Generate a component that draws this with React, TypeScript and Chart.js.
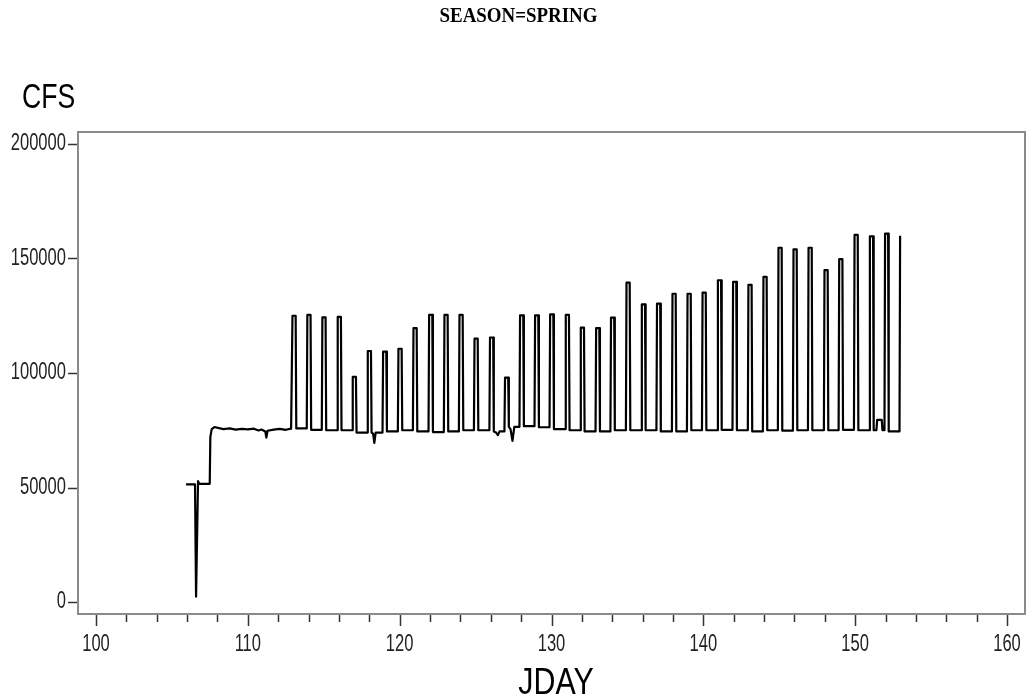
import React, { useEffect, useRef } from 'react';
import { Chart, registerables } from 'chart.js';

Chart.register(...registerables);

// ---- Tick values ----
const xTickValues = [100, 102, 104, 106, 108, 110, 112, 114, 116, 118, 120, 122, 124, 126, 128, 130, 132, 134, 136, 138, 140, 142, 144, 146, 148, 150, 152, 154, 156, 158, 160];
const xLabelValues = [100, 110, 120, 130, 140, 150, 160];
const yTickValues = [0, 50000, 100000, 150000, 200000];

// ---- Initial (pre-pulse) segment ----
const startDays = [105.93, 106.52, 106.59, 106.63, 106.72, 106.80, 107.0, 107.49, 107.53, 107.62, 107.8, 108.1, 108.4, 108.8, 109.2, 109.6, 110.0, 110.4, 110.7, 110.9, 111.15, 111.22, 111.3, 111.7, 112.1, 112.5, 112.85];
const startCfs = [51400, 51400, 2300, 2300, 52800, 51600, 51600, 51600, 72000, 75500, 76400, 75900, 75500, 75800, 75300, 75600, 75400, 75700, 74900, 75300, 74500, 71800, 74800, 75300, 75600, 75200, 75700];

// ---- Daily release pulses (day 113 .. 153) ----
const pulseRise = [112.90, 113.88, 114.87, 115.88, 116.87, 117.86, 118.87, 119.88, 120.87, 121.90, 122.91, 123.90, 124.89, 125.91, 126.90, 127.89, 128.88, 129.87, 130.90, 131.89, 132.90, 133.88, 134.90, 135.91, 136.91, 137.93, 138.92, 139.91, 140.92, 141.92, 142.93, 143.92, 144.91, 145.90, 146.89, 147.94, 148.91, 149.92, 150.93, 151.93, 152.92];
const pulseFall = [113.19, 114.17, 115.16, 116.17, 117.16, 118.15, 119.16, 120.17, 121.16, 122.19, 123.20, 124.19, 125.18, 126.20, 127.19, 128.18, 129.17, 130.16, 131.19, 132.18, 133.19, 134.17, 135.19, 136.20, 137.20, 138.22, 139.21, 140.20, 141.21, 142.21, 143.22, 144.21, 145.20, 146.19, 147.18, 148.23, 149.20, 150.21, 151.22, 152.21];
const pulsePeak = [125000, 125400, 124300, 124500, 98300, 109600, 109300, 110600, 119600, 125400, 125400, 125400, 115000, 115500, 98000, 125200, 125200, 125600, 125400, 119800, 119600, 124200, 139500, 130000, 130300, 134600, 134600, 135100, 140500, 139800, 138500, 142000, 154700, 154000, 154700, 144900, 149700, 160300, 159700, 160900, 159900];
const troughCfs = [75800, 75200, 75000, 75000, 74000, 74000, 74500, 75000, 74500, 74200, 74500, 75000, 75000, 74500, 76500, 76800, 76300, 75500, 75000, 74500, 74500, 75000, 75000, 75000, 74500, 74500, 75000, 75000, 75200, 75000, 74500, 75000, 74800, 75000, 75000, 75000, 75200, 75000, 75000, 74500];

// ---- Occasional dips / bumps between pulses ----
const dipDays = [118.25, 118.33, 118.42, 126.35, 126.47, 126.58, 127.30, 127.43, 127.55, 151.40, 151.45, 151.75, 151.80];
const dipCfs = [73500, 69500, 74000, 74000, 72900, 74500, 75500, 70400, 76500, 75000, 79500, 79500, 75000];

const SANS = '"Liberation Sans", Arial, sans-serif';

function buildPoints() {
  const pts: { x: number; y: number }[] = [];
  startDays.forEach((d, i) => pts.push({ x: d, y: startCfs[i] }));
  pulseRise.forEach((r, i) => {
    const prevBase = i === 0 ? startCfs[startCfs.length - 1] : troughCfs[i - 1];
    const peak = pulsePeak[i];
    pts.push({ x: r, y: prevBase });
    pts.push({ x: r + 0.04, y: peak });
    if (i < pulseFall.length) {
      const f = pulseFall[i];
      pts.push({ x: f - 0.04, y: peak });
      pts.push({ x: f, y: troughCfs[i] });
    }
  });
  dipDays.forEach((d, i) => pts.push({ x: d, y: dipCfs[i] }));
  pts.sort((a, b) => a.x - b.x);
  return pts;
}

function condensedText(ctx: CanvasRenderingContext2D, text: string, x: number, y: number, font: string, sx: number, align: CanvasTextAlign) {
  ctx.save();
  ctx.translate(x, y);
  ctx.scale(sx, 1);
  ctx.font = font;
  ctx.textAlign = align;
  ctx.textBaseline = 'middle';
  ctx.fillText(text, 0, 0);
  ctx.restore();
}

const framePlugin = {
  id: 'sasFrame',
  afterDraw(chart: any) {
    const { ctx, chartArea } = chart;
    const xs = chart.scales.x;
    const ys = chart.scales.y;
    ctx.save();
    // frame
    ctx.strokeStyle = '#8a8a8a';
    ctx.lineWidth = 2;
    ctx.strokeRect(chartArea.left, chartArea.top, chartArea.right - chartArea.left, chartArea.bottom - chartArea.top);
    // tick marks
    ctx.strokeStyle = '#333';
    ctx.lineWidth = 1.5;
    ctx.beginPath();
    xTickValues.forEach((v) => {
      const px = Math.round(xs.getPixelForValue(v)) + 0.5;
      const len = v % 10 === 0 ? 11 : 7;
      ctx.moveTo(px, chartArea.bottom + 1);
      ctx.lineTo(px, chartArea.bottom + 1 + len);
    });
    yTickValues.forEach((v) => {
      const py = Math.round(ys.getPixelForValue(v)) + 0.5;
      ctx.moveTo(chartArea.left - 1, py);
      ctx.lineTo(chartArea.left - 10, py);
    });
    ctx.stroke();
    // tick labels
    ctx.fillStyle = '#222';
    const tickFont = '23px ' + SANS;
    xLabelValues.forEach((v) => {
      condensedText(ctx, String(v), xs.getPixelForValue(v), 645, tickFont, 0.72, 'center');
    });
    yTickValues.forEach((v) => {
      condensedText(ctx, String(v), chartArea.left - 12, ys.getPixelForValue(v), tickFont, 0.72, 'right');
    });
    // title
    ctx.fillStyle = '#000';
    condensedText(ctx, 'SEASON=SPRING', 518.5, 16, 'bold 22px "Liberation Serif", "Times New Roman", serif', 0.86, 'center');
    // axis labels
    condensedText(ctx, 'CFS', 22, 98, '35px ' + SANS, 0.76, 'left');
    condensedText(ctx, 'JDAY', 556, 684, '37px ' + SANS, 0.82, 'center');
    ctx.restore();
  },
};

export default function App() {
  const ref = useRef<HTMLCanvasElement>(null);
  useEffect(() => {
    const canvas = ref.current;
    if (!canvas) return;
    const chart = new Chart(canvas, {
      type: 'line',
      data: {
        datasets: [
          {
            data: buildPoints(),
            borderColor: '#000',
            borderWidth: 2.2,
            pointRadius: 0,
            tension: 0,
            fill: false,
            borderJoinStyle: 'round',
          },
        ],
      },
      options: {
        animation: false,
        responsive: false,
        events: [],
        layout: { padding: { top: 132, left: 0, right: 1, bottom: 0 } },
        plugins: {
          legend: { display: false },
          tooltip: { enabled: false },
          title: { display: false },
        },
        scales: {
          x: {
            type: 'linear',
            min: 98.814,
            max: 161.186,
            afterBuildTicks: (s: any) => {
              s.ticks = xTickValues.map((v) => ({ value: v }));
            },
            afterFit: (s: any) => {
              s.height = 86;
            },
            grid: { display: false, drawTicks: false },
            border: { display: false },
            ticks: { display: false },
          },
          y: {
            type: 'linear',
            min: -5240,
            max: 205240,
            afterBuildTicks: (s: any) => {
              s.ticks = yTickValues.map((v) => ({ value: v }));
            },
            afterFit: (s: any) => {
              s.width = 78;
            },
            grid: { display: false, drawTicks: false },
            border: { display: false },
            ticks: { display: false },
          },
        },
      },
      plugins: [framePlugin],
    });
    return () => chart.destroy();
  }, []);
  return (
    <div style={{ position: 'fixed', left: 0, top: 0, width: 1026, height: 700, background: '#fff' }}>
      <canvas ref={ref} width={1026} height={700} style={{ display: 'block' }} />
    </div>
  );
}
